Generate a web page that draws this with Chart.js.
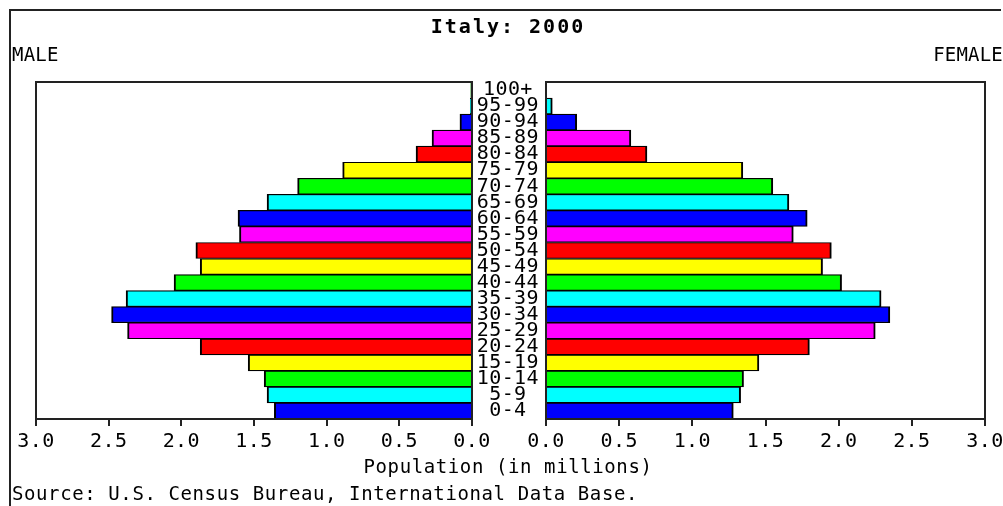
<!DOCTYPE html>
<html><head><meta charset="utf-8">
<script src="https://cdn.jsdelivr.net/npm/chart.js@4/dist/chart.umd.min.js"></script>
<style>
html,body{margin:0;padding:0;background:#fff;}
#wrap{position:relative;width:1003px;height:506px;overflow:hidden;background:#fff;}
canvas{position:absolute;left:0;top:0;}
</style></head><body>
<div id="wrap"><canvas id="male" width="1003" height="506"></canvas><canvas id="female" width="1003" height="506"></canvas></div>
<script>
const ageGroups = ['0-4','5-9','10-14','15-19','20-24','25-29','30-34','35-39','40-44','45-49','50-54','55-59','60-64','65-69','70-74','75-79','80-84','85-89','90-94','95-99','100+'];
const maleValues = [1.36, 1.41, 1.43, 1.54, 1.87, 2.37, 2.48, 2.38, 2.05, 1.87, 1.90, 1.60, 1.61, 1.41, 1.20, 0.89, 0.385, 0.275, 0.083, 0.012, 0.008];
const femaleValues = [1.28, 1.33, 1.35, 1.455, 1.80, 2.25, 2.35, 2.29, 2.02, 1.89, 1.95, 1.69, 1.785, 1.66, 1.55, 1.345, 0.69, 0.58, 0.21, 0.043, 0.006];
const barColors = ['#0000ff','#00ffff','#00ff00','#ffff00','#ff0000','#ff00ff'];
const axisMax = 3.0;
const axisStep = 0.5;
const titleText = 'Italy: 2000';
const leftLabel = 'MALE';
const rightLabel = 'FEMALE';
const xAxisTitle = 'Population (in millions)';
const sourceText = 'Source: U.S. Census Bureau, International Data Base.';

const FONT = 'DejaVu Sans Mono';
const W = 1003, H = 506;
const colorsFor = vals => vals.map((_, i) => barColors[i % barColors.length]);

const spacingPlugin = {
  id: 'spacing',
  beforeLayout(c) { c.ctx.letterSpacing = '0.4px'; },
  beforeDraw(c) { c.ctx.letterSpacing = '0.4px'; }
};
const framePlugin = {
  id: 'frame',
  afterDatasetsDraw(c) {
    const a = c.chartArea, ctx = c.ctx;
    ctx.save();
    ctx.strokeStyle = '#222';
    ctx.lineWidth = 2;
    ctx.strokeRect(a.left, a.top, a.right - a.left, a.bottom - a.top);
    ctx.restore();
  }
};
const textPlugin = {
  id: 'texts',
  afterDraw(c) {
    const ctx = c.ctx;
    ctx.save();
    ctx.strokeStyle = '#222';
    ctx.lineWidth = 2;
    ctx.beginPath();
    ctx.moveTo(10, H); ctx.lineTo(10, 10); ctx.lineTo(1001, 10);
    ctx.stroke();
    ctx.fillStyle = '#000';
    ctx.textBaseline = 'middle';
    ctx.letterSpacing = '2px';
    ctx.font = 'bold 20px "' + FONT + '"';
    ctx.textAlign = 'center';
    ctx.fillText(titleText, 508, 28);
    ctx.letterSpacing = '0.2px';
    ctx.font = '19px "' + FONT + '"';
    ctx.textAlign = 'left';
    ctx.fillText(leftLabel, 12, 56);
    ctx.textAlign = 'right';
    ctx.fillText(rightLabel, 1003, 56);
    ctx.letterSpacing = '0.6px';
    ctx.textAlign = 'center';
    ctx.fillText(xAxisTitle, 508, 468);
    ctx.textAlign = 'left';
    ctx.fillText(sourceText, 12, 495);
    ctx.restore();
  }
};

const xTickOpts = {
  stepSize: axisStep,
  autoSkip: false,
  maxRotation: 0,
  color: '#000',
  padding: 4,
  font: { family: FONT, size: 20 },
  callback: v => Number(v).toFixed(1)
};
const xGrid = { display: true, drawOnChartArea: false, drawTicks: true, tickLength: 7, color: '#222', lineWidth: 2 };
const xBorder = { display: true, color: '#222', width: 2 };
function fitX(s) { s.height = H - 419; s.paddingLeft = 0; s.paddingRight = 0; }

function dataset(vals) {
  return {
    data: vals,
    backgroundColor: colorsFor(vals),
    borderColor: '#000',
    borderWidth: { top: 1.2, bottom: 1.2, left: 2, right: 2 },
    barPercentage: 1,
    categoryPercentage: 1
  };
}

new Chart(document.getElementById('male'), {
  type: 'bar',
  data: { labels: ageGroups, datasets: [dataset(maleValues)] },
  options: {
    indexAxis: 'y', responsive: false, animation: false, devicePixelRatio: 1,
    layout: { padding: { left: 36, right: W - 472, top: 82, bottom: 0 } },
    plugins: { legend: { display: false }, tooltip: { enabled: false } },
    scales: {
      x: { type: 'linear', min: 0, max: axisMax, reverse: true, afterFit: fitX,
           ticks: xTickOpts, grid: xGrid, border: xBorder },
      y: { type: 'category', reverse: true, display: false }
    }
  },
  plugins: [spacingPlugin, framePlugin]
});

new Chart(document.getElementById('female'), {
  type: 'bar',
  data: { labels: ageGroups, datasets: [dataset(femaleValues)] },
  options: {
    indexAxis: 'y', responsive: false, animation: false, devicePixelRatio: 1,
    layout: { padding: { left: 473, right: W - 985, top: 82, bottom: 0 } },
    plugins: { legend: { display: false }, tooltip: { enabled: false } },
    scales: {
      x: { type: 'linear', min: 0, max: axisMax, afterFit: fitX,
           ticks: xTickOpts, grid: xGrid, border: xBorder },
      y: { type: 'category', reverse: true, position: 'left',
           afterFit(s) { s.width = 73; },
           grid: { display: false, drawTicks: false }, border: { display: false },
           ticks: { crossAlign: 'center', padding: 7, autoSkip: false, color: '#000', font: { family: FONT, size: 20 } } }
    }
  },
  plugins: [spacingPlugin, framePlugin, textPlugin]
});
</script>
</body></html>
